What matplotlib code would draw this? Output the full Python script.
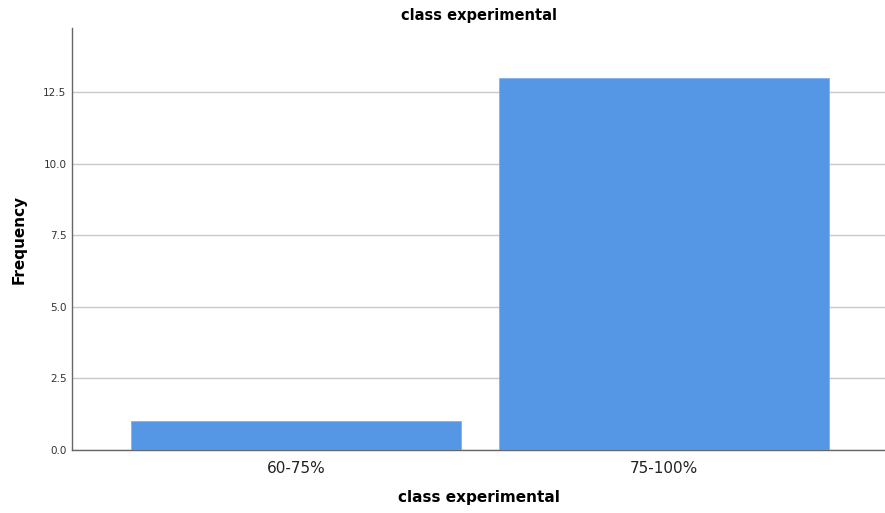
import matplotlib.pyplot as plt

# class experimental frequencies
categories = ["60-75%", "75-100%"]
counts = [1, 13]
yticks = [0.0, 2.5, 5.0, 7.5, 10.0, 12.5]

fig = plt.figure(figsize=(8.85, 5.13), dpi=100)
ax = fig.add_axes([0.0814, 0.1228, 0.9186, 0.8226])

x = range(len(categories))
ax.bar(x, counts, width=0.897, color="#5596e5", edgecolor="#7fb0ee", linewidth=0.6, zorder=3)

ax.set_xlim(-0.61, 1.6)
ax.set_ylim(0, 14.73)
ax.set_yticks(yticks)
ax.set_yticklabels([f"{v:.1f}" for v in yticks], fontsize=7.5, color="#333333")
ax.set_xticks(list(x))
ax.set_xticklabels(categories, fontsize=11, color="#222222")
ax.tick_params(axis="both", length=0)
ax.tick_params(axis="x", pad=8)
ax.tick_params(axis="y", pad=4)

ax.grid(axis="y", color="#c8c8c8", linewidth=1.0, zorder=0)
ax.set_axisbelow(True)
for s in ["top", "right"]:
    ax.spines[s].set_visible(False)
for s in ["left", "bottom"]:
    ax.spines[s].set_color("#666666")
    ax.spines[s].set_linewidth(1.0)

ax.set_xlabel("class experimental", fontsize=11, fontweight="bold", labelpad=10)
ax.set_ylabel("Frequency", fontsize=11, fontweight="bold", labelpad=12)
ax.set_title("class experimental", fontsize=10.5, fontweight="bold", pad=6)

fig.savefig("out.png", dpi=100)
